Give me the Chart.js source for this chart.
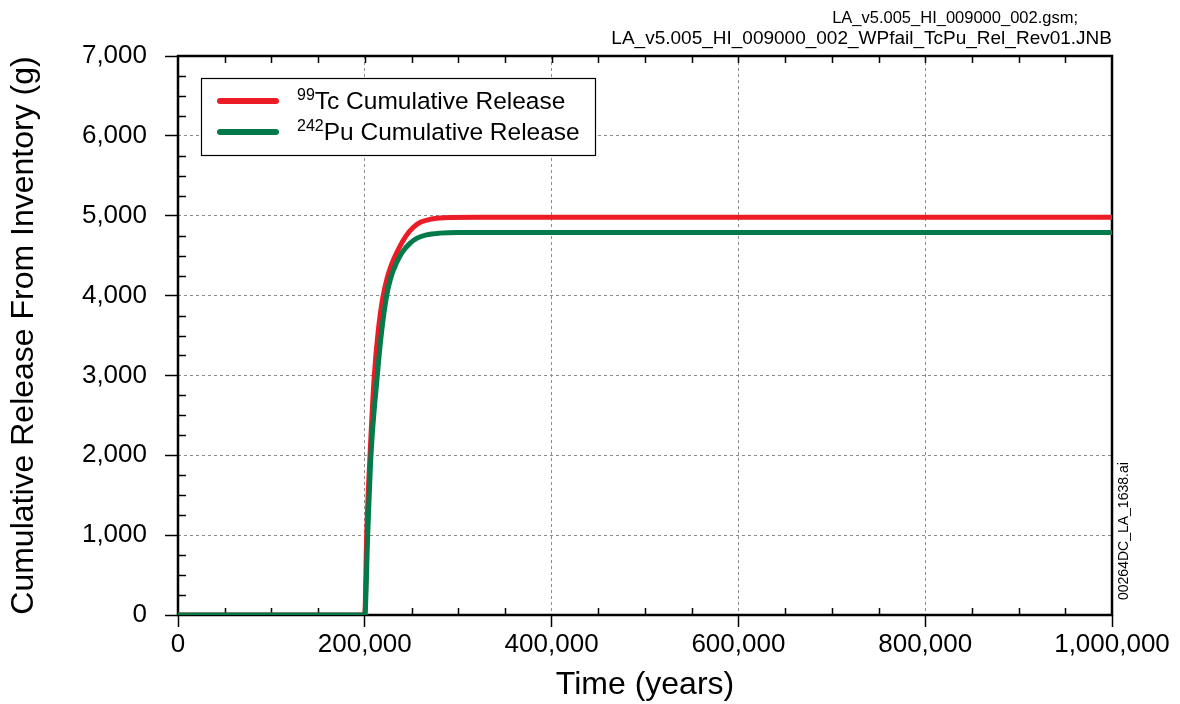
<!DOCTYPE html>
<html>
<head>
<meta charset="utf-8">
<title>Cumulative Release From Inventory</title>
<script src="https://cdn.jsdelivr.net/npm/chart.js@4.4.1/dist/chart.umd.min.js"></script>
<style>
  html, body { margin: 0; padding: 0; background: #fff; }
  #wrap { position: relative; width: 1180px; height: 704px; }
</style>
</head>
<body>
<div id="wrap"><canvas id="releaseChart" width="1180" height="704"></canvas></div>
<script>
// 99Tc cumulative release (g) vs time (years)
const tcYears   = [0, 200000, 202000, 205600, 210200, 214600, 219100, 224000, 229000, 237700, 244000, 252000, 260000, 270000, 285000, 320000, 1000000];
const tcRelease = [0, 0, 1000, 2000, 3000, 3580, 3960, 4220, 4400, 4620, 4745, 4855, 4920, 4955, 4974, 4980, 4980];

// 242Pu cumulative release (g) vs time (years)
const puYears   = [0, 200000, 203100, 206600, 213400, 218000, 223400, 228000, 234000, 240000, 248000, 256000, 266000, 280000, 300000, 1000000];
const puRelease = [0, 0, 1000, 2000, 3000, 3550, 4000, 4230, 4410, 4540, 4650, 4720, 4760, 4782, 4790, 4790];

// legend text: isotope mass number (superscript) + name
const seriesMass  = ['99', '242'];
const seriesNames = ['Tc Cumulative Release', 'Pu Cumulative Release'];

// file names printed around the plot
const sourceLines = ['LA_v5.005_HI_009000_002.gsm;', 'LA_v5.005_HI_009000_002_WPfail_TcPu_Rel_Rev01.JNB'];
const figureId = '00264DC_LA_1638.ai';

const FONT = '"Liberation Sans", Arial, sans-serif';
const RED = '#ec1c26';
const GREEN = '#037a49';

function toPoints(xs, ys) {
    return xs.map((x, i) => ({ x: x, y: ys[i] }));
}

// 프레임, 보조 눈금 (minor ticks), 범례와 주석
const framePlugin = {
    id: 'frame',
    beforeDatasetsDraw(chart) {
        const { ctx, chartArea: a, scales } = chart;
        ctx.save();
        ctx.strokeStyle = '#000';
        ctx.lineWidth = 1.5;
        ctx.setLineDash([]);
        ctx.beginPath();
        // x minor ticks every 50,000 (bottom and top, inward)
        for (let v = 50000; v < 1000000; v += 50000) {
            const px = Math.round(scales.x.getPixelForValue(v)) + 0.5;
            if (v % 200000 !== 0) {
                ctx.moveTo(px, a.bottom);
                ctx.lineTo(px, a.bottom - 7);
            }
            ctx.moveTo(px, a.top);
            ctx.lineTo(px, a.top + 7);
        }
        // y minor ticks every 250 (left, inward)
        for (let v = 250; v < 7000; v += 250) {
            if (v % 1000 === 0) continue;
            const py = Math.round(scales.y.getPixelForValue(v)) + 0.5;
            ctx.moveTo(a.left, py);
            ctx.lineTo(a.left + 8, py);
        }
        ctx.stroke();
        ctx.lineWidth = 2.5;
        ctx.strokeRect(a.left, a.top, a.right - a.left, a.bottom - a.top);
        ctx.restore();
    },
    afterDraw(chart) {
        const { ctx } = chart;
        ctx.save();

        // legend box
        ctx.fillStyle = '#fff';
        ctx.fillRect(201, 78, 394, 77);
        ctx.strokeStyle = '#000';
        ctx.lineWidth = 1.2;
        ctx.strokeRect(201.5, 78.5, 394, 77);
        const colors = [RED, GREEN];
        const rowY = [101, 132];
        ctx.lineCap = 'round';
        ctx.textBaseline = 'alphabetic';
        ctx.textAlign = 'left';
        for (let i = 0; i < seriesNames.length; i++) {
            ctx.strokeStyle = colors[i];
            ctx.lineWidth = 6;
            ctx.beginPath();
            ctx.moveTo(220, rowY[i]);
            ctx.lineTo(276, rowY[i]);
            ctx.stroke();
            ctx.fillStyle = '#000';
            ctx.font = '16px ' + FONT;
            ctx.fillText(seriesMass[i], 297, rowY[i] - 1);
            const w = ctx.measureText(seriesMass[i]).width;
            ctx.font = '24.5px ' + FONT;
            ctx.fillText(seriesNames[i], 297 + w, rowY[i] + 8);
        }

        // source file names, top right
        ctx.textAlign = 'right';
        ctx.font = '16.5px ' + FONT;
        ctx.fillText(sourceLines[0], 1078, 23);
        ctx.font = '19px ' + FONT;
        ctx.fillText(sourceLines[1], 1112, 44);

        // figure id, rotated along right edge
        ctx.translate(1128, 600);
        ctx.rotate(-Math.PI / 2);
        ctx.textAlign = 'left';
        ctx.font = '14px ' + FONT;
        ctx.fillText(figureId, 0, 0);
        ctx.restore();
    }
};

const ctx = document.getElementById('releaseChart');
new Chart(ctx, {
    type: 'line',
    data: {
        datasets: [
            {
                label: seriesMass[0] + seriesNames[0],
                data: toPoints(tcYears, tcRelease),
                borderColor: RED,
                borderWidth: 5,
                pointRadius: 0,
                cubicInterpolationMode: 'monotone',
                order: 2
            },
            {
                label: seriesMass[1] + seriesNames[1],
                data: toPoints(puYears, puRelease),
                borderColor: GREEN,
                borderWidth: 5,
                pointRadius: 0,
                cubicInterpolationMode: 'monotone',
                order: 1
            }
        ]
    },
    options: {
        responsive: false,
        animation: false,
        layout: { padding: { left: 0, top: 56, right: 68, bottom: 0 } },
        plugins: {
            legend: { display: false },
            tooltip: { enabled: false }
        },
        scales: {
            x: {
                type: 'linear',
                min: 0,
                max: 1000000,
                ticks: {
                    stepSize: 200000,
                    maxRotation: 0,
                    color: '#000',
                    padding: 2,
                    font: { family: FONT, size: 26 },
                    callback: v => v.toLocaleString('en-US')
                },
                grid: { color: '#8c8c8c', lineWidth: 1, tickLength: 12, tickColor: '#000', tickWidth: 1.5, tickBorderDash: [] },
                border: { display: false, dash: [3, 3] },
                title: {
                    display: true,
                    text: 'Time (years)',
                    color: '#000',
                    font: { family: FONT, size: 32 },
                    padding: { top: 0, bottom: 0 }
                },
                afterFit: s => { s.height = 89; }
            },
            y: {
                type: 'linear',
                min: 0,
                max: 7000,
                ticks: {
                    stepSize: 1000,
                    color: '#000',
                    padding: 18,
                    font: { family: FONT, size: 26 },
                    callback: v => v.toLocaleString('en-US')
                },
                grid: { color: '#8c8c8c', lineWidth: 1, tickLength: 13, tickColor: '#000', tickWidth: 1.5, tickBorderDash: [] },
                border: { display: false, dash: [3, 3] },
                title: {
                    display: true,
                    text: 'Cumulative Release From Inventory (g)',
                    color: '#000',
                    font: { family: FONT, size: 32 },
                    padding: { top: 5, bottom: 0 }
                },
                afterFit: s => { s.width = 178; }
            }
        }
    },
    plugins: [framePlugin]
});
</script>
</body>
</html>
